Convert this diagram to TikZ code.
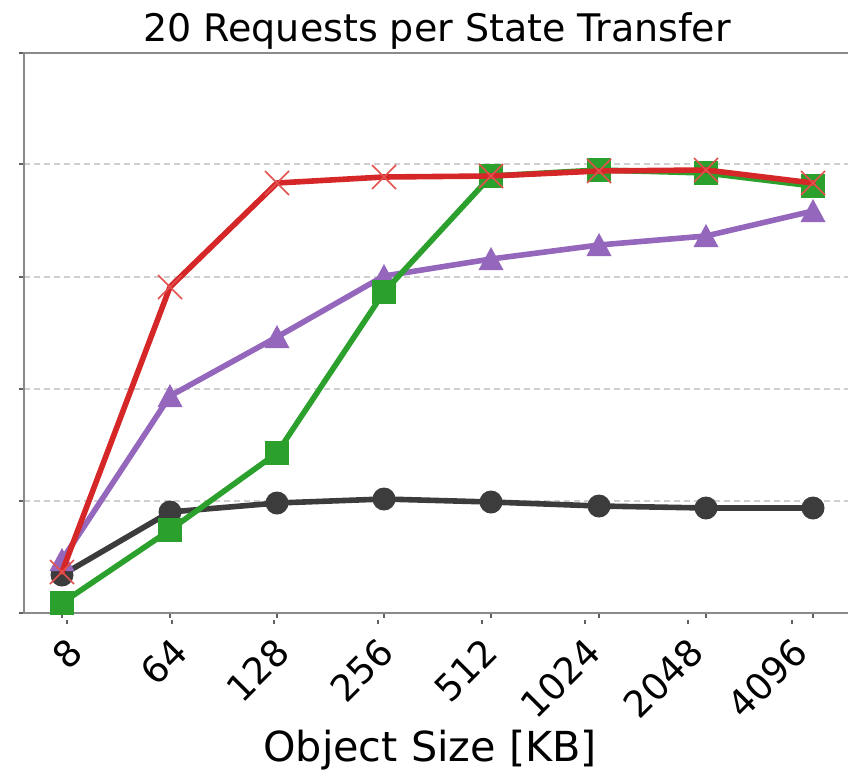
\documentclass[tikz,border=0pt]{standalone}
\usepackage{fontspec}
\setmainfont{DejaVu Sans}
\definecolor{spinegray}{HTML}{8A8A8A}
\definecolor{gridgray}{HTML}{CFCFCF}
\definecolor{cdark}{HTML}{3C3C3C}
\definecolor{cgreen}{HTML}{2CA02C}
\definecolor{cpurple}{HTML}{9467BD}
\definecolor{cred}{HTML}{D62728}
\definecolor{cxred}{HTML}{E2504F}
\begin{document}
\begin{tikzpicture}[x=0.75pt,y=-0.75pt,
  spine/.style={draw=spinegray,line width=2.2pt},
  gridline/.style={draw=gridgray,line width=1pt,dash pattern=on 4.5pt off 3pt},
  tickmark/.style={draw=spinegray!70!black,line width=0.8pt},
  series/.style={line width=4.2pt,line join=round,line cap=round},
  ticklabel/.style={rotate=45,anchor=east,inner sep=0pt,font=\fontsize{27.5}{30}\selectfont},
]
\useasboundingbox (0,0) rectangle (848,771);

% horizontal grid
\foreach \gy in {164,277,389,501}
  \draw[gridline] (24,\gy) -- (848,\gy);

% y ticks on the left spine
\foreach \gy in {53,164,277,389,501,613}
  \draw[tickmark] (19,\gy) -- (24,\gy);

% x ticks below the bottom spine
\foreach \tx in {62,170,277,384,491,599,706,813}
  \draw[tickmark] (\tx,613) -- (\tx,618);
\foreach \tx in {67,172,274,378,482,585,688,792}
  \draw[tickmark] (\tx,620) -- (\tx,624);

% spines
\draw[spine] (848,53) -- (24,53) -- (24,613) -- (848,613);

% series coordinates
\foreach \i/\px in {1/62,2/170,3/277,4/384,5/491,6/599,7/706,8/813}{
  \coordinate (x\i) at (\px,0);
}
\foreach \i/\vy in {1/575,2/512,3/503,4/499,5/502,6/506,7/508,8/508}
  \coordinate (k\i) at (x\i |- 0,\vy);
\foreach \i/\vy in {1/560,2/396,3/337,4/276,5/259,6/245,7/236,8/211}
  \coordinate (p\i) at (x\i |- 0,\vy);
\foreach \i/\vy in {1/603,2/530,3/453,4/292,5/176,6/170,7/173,8/186}
  \coordinate (g\i) at (x\i |- 0,\vy);
\foreach \i/\vy in {1/572,2/287,3/183,4/177,5/176,6/171,7/170,8/183}
  \coordinate (r\i) at (x\i |- 0,\vy);

% dark series with circles
\draw[series,cdark] (k1) -- (k2) -- (k3) -- (k4) -- (k5) -- (k6) -- (k7) -- (k8);
\foreach \i in {1,...,8}
  \fill[cdark] (k\i) circle[radius=11.5];

% purple series with triangles
\draw[series,cpurple] (p1) -- (p2) -- (p3) -- (p4) -- (p5) -- (p6) -- (p7) -- (p8);
\foreach \i in {1,...,8}
  \fill[cpurple] ([yshift=9pt]p\i) -- ([xshift=-9.4pt,yshift=-8.3pt]p\i) -- ([xshift=9.4pt,yshift=-8.3pt]p\i) -- cycle;

% green series with squares
\draw[series,cgreen] (g1) -- (g2) -- (g3) -- (g4) -- (g5) -- (g6) -- (g7) -- (g8);
\foreach \i in {1,...,8}
  \fill[cgreen] ([xshift=-9pt,yshift=-9pt]g\i) rectangle ([xshift=9pt,yshift=9pt]g\i);

% red series with crosses
\draw[series,cred] (r1) -- (r2) -- (r3) -- (r4) -- (r5) -- (r6) -- (r7) -- (r8);
\foreach \i in {1,...,8}{
  \draw[cxred,line width=1.3pt] ([xshift=-9pt,yshift=-9pt]r\i) -- ([xshift=9pt,yshift=9pt]r\i);
  \draw[cxred,line width=1.3pt] ([xshift=-9pt,yshift=9pt]r\i) -- ([xshift=9pt,yshift=-9pt]r\i);
}

% tick labels
\node[ticklabel] (t1) at (75.5,645) {8};
\node[ticklabel] (t2) at (180.5,645) {64};
\node[ticklabel] (t3) at (282.5,645) {128};
\node[ticklabel] (t4) at (386.5,645) {256};
\node[ticklabel] (t5) at (490.5,645) {512};
\node[ticklabel] (t6) at (593.5,645) {1024};
\node[ticklabel] (t7) at (696.5,645) {2048};
\node[ticklabel] (t8) at (800.5,645) {4096};

% axis label and title
\node[anchor=base,fill=white,inner sep=5pt,font=\fontsize{31}{34}\selectfont] (xlab) at (430,761) {Object Size [KB]};
\node[anchor=base,inner sep=0pt,font=\fontsize{28.5}{32}\selectfont] (title) at (437,41) {20 Requests per State Transfer};
\end{tikzpicture}
\end{document}
